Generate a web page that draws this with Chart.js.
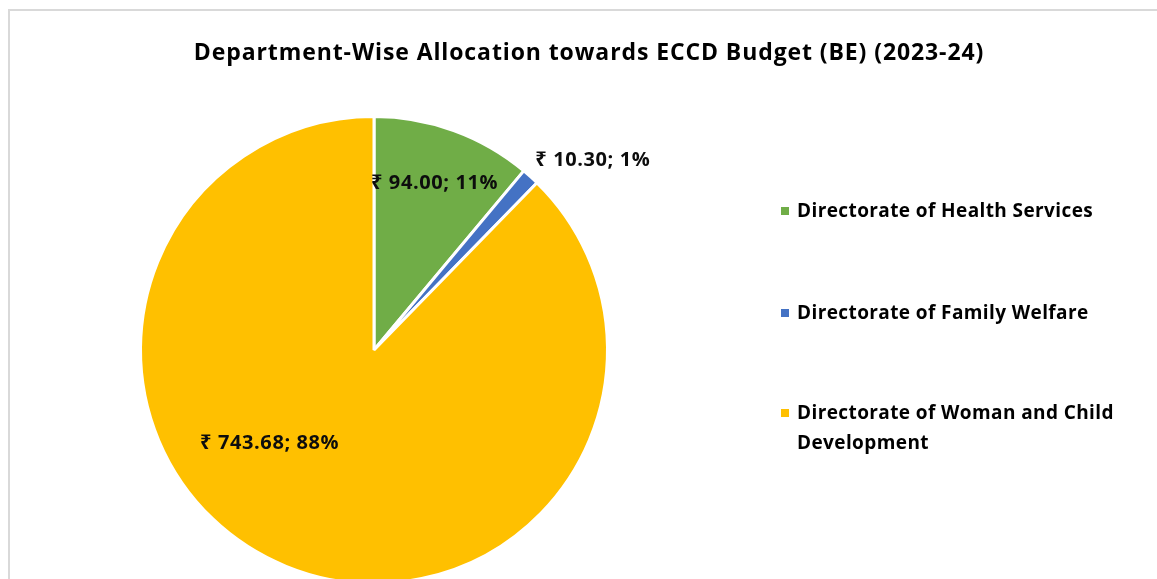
<!DOCTYPE html>
<html>
<head>
<meta charset="utf-8">
<script src="https://cdn.jsdelivr.net/npm/chart.js@4.4.1/dist/chart.umd.min.js"></script>
<style>
  html, body { margin: 0; padding: 0; background: #fff; overflow: hidden; width: 1157px; height: 579px; }
  .frame { position: absolute; left: 8px; top: 9px; width: 1200px; height: 700px; border: 2px solid #d9d9d9; box-sizing: border-box; }
  #chart { position: absolute; left: 0; top: 0; }
  .title { position: absolute; left: 0; width: 1178px; top: 35px; line-height: 30px; text-align: center; font: bold 23px "Open Sans", "Noto Sans", sans-serif; letter-spacing: 0.9px; color: #000; }
  .legend { position: absolute; left: 781px; top: 0; font: bold 19px "Open Sans", "Noto Sans", sans-serif; letter-spacing: 0.4px; color: #000; }
  .legend .item { position: absolute; left: 0; width: 376px; line-height: 30px; }
  .legend .box { position: absolute; left: 0; top: 12px; width: 8px; height: 8px; }
  .legend .txt { position: absolute; left: 16px; top: 0; width: 360px; }
</style>
</head>
<body>
<div class="frame"></div>
<canvas id="chart" width="1157" height="600"></canvas>
<div class="title">Department-Wise Allocation towards ECCD Budget (BE) (2023-24)</div>
<div class="legend" id="legend"></div>
<script>
const categories = ['Directorate of Health Services', 'Directorate of Family Welfare', 'Directorate of Woman and Child Development']
const budget = [94.00, 10.30, 743.68]
const colors = ['#70ad47', '#4472c4', '#ffc000']

// legend rows (top of each text block)
const legendTops = [195, 297, 397]
document.getElementById('legend').innerHTML = categories.map((c, i) => `
  <div class="item" style="top:${legendTops[i]}px">
    <span class="box" style="background:${colors[i]}"></span>
    <span class="txt">${c.replace('Child Development', 'Child<br>Development')}</span>
  </div>
`).join('')

// label placement per slice: radius factor and angle shift (deg)
const labelPlace = [
  { f: 0.76, da: 0 },
  { f: 1.24, da: 7 },
  { f: 0.60, da: 26 }
]

const valueLabels = {
  id: 'valueLabels',
  afterDatasetsDraw(chart) {
    const ctx = chart.ctx
    const meta = chart.getDatasetMeta(0)
    const total = budget.reduce((a, b) => a + b, 0)
    ctx.save()
    ctx.font = 'bold 20px "Open Sans", "Noto Sans", sans-serif'
    ctx.letterSpacing = '0.6px'
    ctx.fillStyle = '#0d0d0d'
    ctx.textAlign = 'center'
    ctx.textBaseline = 'middle'
    meta.data.forEach((arc, i) => {
      const p = arc.getProps(['x', 'y', 'startAngle', 'endAngle', 'outerRadius'], true)
      const a = (p.startAngle + p.endAngle) / 2 + labelPlace[i].da * Math.PI / 180
      const r = p.outerRadius * labelPlace[i].f
      const pct = Math.round(budget[i] / total * 100)
      ctx.fillText(`₹ ${budget[i].toFixed(2)}; ${pct}%`, p.x + Math.cos(a) * r, p.y + Math.sin(a) * r)
    })
    ctx.restore()
  }
}

new Chart(document.getElementById('chart'), {
  type: 'pie',
  data: {
    labels: categories,
    datasets: [{
      data: budget,
      backgroundColor: colors,
      borderColor: '#fff',
      borderWidth: 3
    }]
  },
  options: {
    responsive: false,
    animation: false,
    layout: { padding: { left: 139, top: 115, right: 548, bottom: 15 } },
    plugins: { legend: { display: false }, tooltip: { enabled: false } }
  },
  plugins: [valueLabels]
})
</script>
</body>
</html>
